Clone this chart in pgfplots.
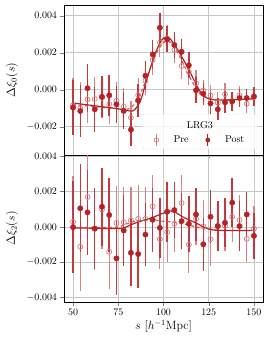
\documentclass[border=0pt]{standalone}
\usepackage{pgfplots}
\pgfplotsset{compat=1.18}
\usepackage{pgfplotstable}
\definecolor{post}{RGB}{184,32,36}
\colorlet{postbar}{post!88!white}
\colorlet{pre}{post!60!white}
\colorlet{prebar}{post!55!white}

\pgfplotstableread{
s post epost pre epre
50 -0.00097 0.0015 -0.00085 0.0015
54 -0.00115 0.0014 -0.00100 0.0014
58 0.00008 0.0013 -0.00052 0.0013
62 -0.00106 0.0012 -0.00050 0.0012
66 -0.00038 0.0011 -0.00045 0.0011
70 -0.00030 0.0011 -0.00078 0.0011
74 -0.00079 0.0010 -0.00060 0.0010
78 -0.00115 0.0010 -0.00092 0.0010
82 -0.00216 0.0009 -0.00151 0.0009
86 -0.00057 0.0009 -0.00029 0.0009
90 0.00076 0.0008 0.00049 0.0008
94 0.00191 0.0008 0.00160 0.0008
98 0.00335 0.0008 0.00256 0.0008
102 0.00272 0.0007 0.00278 0.0007
106 0.00242 0.0007 0.00215 0.0007
110 0.00205 0.0007 0.00128 0.0007
114 0.00132 0.0007 0.00097 0.0007
118 -0.00003 0.0007 0.00035 0.0007
122 -0.00022 0.0006 -0.00005 0.0006
126 -0.00074 0.0006 -0.00032 0.0006
130 -0.00106 0.0006 -0.00070 0.0006
134 -0.00068 0.0006 -0.00025 0.0006
138 -0.00063 0.0005 -0.00060 0.0005
142 -0.00045 0.0005 -0.00029 0.0005
146 -0.00045 0.0005 -0.00076 0.0005
150 -0.00036 0.0005 -0.00040 0.0005
}\topdata

\pgfplotstableread{
s post epost pre epre
50 -0.00002 0.0026 0.00028 0.0026
54 0.00105 0.0025 -0.00113 0.0025
58 0.00082 0.0024 0.00169 0.0024
62 -0.00010 0.0023 -0.00012 0.0023
66 0.00114 0.0022 0.00097 0.0022
70 0.00067 0.0021 -0.00141 0.0021
74 -0.00179 0.0021 0.00022 0.0021
78 -0.00021 0.0020 0.00026 0.0020
82 -0.00147 0.0019 0.00037 0.0019
86 -0.00154 0.0019 0.00045 0.0019
90 -0.00044 0.0018 0.00045 0.0018
94 0.00040 0.0018 0.00116 0.0018
98 -0.00006 0.0017 -0.00070 0.0017
102 0.00086 0.0017 -0.00030 0.0017
106 0.00095 0.0016 0.00017 0.0016
110 0.00032 0.0016 0.00135 0.0016
114 0.00017 0.0016 -0.00101 0.0016
118 0.00070 0.0015 0.00045 0.0015
122 -0.00099 0.0015 0.00003 0.0015
126 0.00057 0.0015 -0.00070 0.0015
130 0.00004 0.0014 0.00005 0.0014
134 0.00023 0.0014 0.00005 0.0014
138 0.00137 0.0014 0.00056 0.0014
142 0.00004 0.0014 0.00039 0.0014
146 0.00070 0.0013 -0.00068 0.0013
150 -0.00051 0.0013 -0.00010 0.0013
}\botdata

\pgfplotsset{
  panel/.style={
    scale only axis, width=199bp,
    xmin=45, xmax=155,
    xtick={50,75,100,125,150},
    grid=major,
    major grid style={gray!45, line width=0.5pt},
    axis line style={line width=0.6pt},
    tick align=outside,
    xtick pos=bottom, ytick pos=left,
    major tick length=3.5bp,
    tick label style={font=\fontsize{10}{12}\selectfont},
    label style={font=\fontsize{12}{14}\selectfont},
    scaled y ticks=false,
    yticklabel style={/pgf/number format/.cd, fixed, fixed zerofill, precision=3},
    ylabel style={at={(axis description cs:-0.262,0.5)}, anchor=center},
  },
  preplot/.style={only marks, color=pre, mark=o, mark size=2.5pt,
    mark options={line width=0.7pt, draw=pre, fill=none},
    error bars/.cd, y dir=both, y explicit, error mark=none,
    error bar style={line width=1.2pt, draw=prebar, color=prebar}},
  postplot/.style={only marks, color=post, mark=*, mark size=2.7pt,
    mark options={draw=post, fill=post},
    error bars/.cd, y dir=both, y explicit, error mark=none,
    error bar style={line width=1.5pt, draw=postbar, color=postbar}},
}

\begin{document}
\begin{tikzpicture}
\begin{axis}[panel, name=top, height=150bp,
  ymin=-0.00353, ymax=0.00458,
  ytick={-0.002,0,0.002,0.004},
  xticklabels={},
  ylabel={$\Delta\xi_0(s)$},
  legend columns=2,
  legend style={draw=none, fill=none, at={(rel axis cs:0.427,0.1)}, anchor=west,
    font=\fontsize{10}{12}\selectfont,
    /tikz/every even column/.append style={column sep=13bp}},
  legend image code/.code={
    \path (-4bp,0) (15bp,0);
    \draw[#1, mark=none, line width=1.2pt] (0bp,-6bp) -- (0bp,6bp);
    \draw[#1, only marks, mark size=2.2pt] plot coordinates {(0bp,0bp)};},
]
\draw[rounded corners=2bp, draw=gray!25, fill=white, fill opacity=0.8]
  (rel axis cs:0.392,0.04) rectangle (rel axis cs:0.97,0.273);
\node[font=\fontsize{10}{12}\selectfont] at (rel axis cs:0.683,0.2) {LRG3};
\addplot[preplot] table[x=s, y=pre, y error=epre] {\topdata};
\addlegendentry{Pre}
\addplot[postplot] table[x=s, y=post, y error=epost] {\topdata};
\addlegendentry{Post}
\addplot[pre!70!post, dashed, line width=1.2pt, smooth, forget plot] coordinates {
(50,-0.00080) (58,-0.00088) (66,-0.00095) (74,-0.00102) (79,-0.00105) (82,-0.00098)
(85,-0.00060) (88,-0.00005) (91,0.00070) (94,0.00150) (97,0.00215) (100,0.00255)
(102,0.00262) (104,0.00255) (107,0.00215) (110,0.00160) (113,0.00098) (116,0.00040)
(119,-0.00010) (122,-0.00035) (126,-0.00050) (132,-0.00055) (140,-0.00052) (150,-0.00048)};
\addplot[post, line width=1.2pt, smooth, forget plot] coordinates {
(50,-0.00072) (58,-0.00082) (66,-0.00092) (74,-0.00102) (80,-0.00112) (83,-0.00115)
(86,-0.00085) (88,-0.00040) (90,0.00030) (93,0.00125) (96,0.00210) (99,0.00268)
(101,0.00284) (103,0.00282) (106,0.00245) (110,0.00180) (114,0.00108) (118,0.00030)
(121,-0.00020) (124,-0.00045) (128,-0.00055) (135,-0.00056) (142,-0.00053) (150,-0.00050)};
\end{axis}

\begin{axis}[panel, name=bot, height=147bp,
  at={(top.south west)}, anchor=north west,
  ymin=-0.00426, ymax=0.00407,
  ytick={-0.004,-0.002,0,0.002,0.004},
  ylabel={$\Delta\xi_2(s)$},
  xlabel={$s$ [$h^{-1}$Mpc]},
  xlabel style={yshift=2bp},
]
\addplot[preplot] table[x=s, y=pre, y error=epre] {\botdata};
\addplot[postplot] table[x=s, y=post, y error=epost] {\botdata};
\addplot[pre!70!post, dashed, line width=1.2pt, smooth] coordinates {
(50,-0.00003) (62,-0.00003) (74,-0.00002) (78,0.00010) (82,0.00025) (86,0.00035)
(90,0.00040) (94,0.00040) (98,0.00033) (102,0.00030) (106,0.00026) (110,0.00020)
(114,0.00010) (118,0.00000) (122,-0.00010) (126,-0.00016) (132,-0.00020) (150,-0.00020)};
\addplot[post, line width=1.2pt, smooth] coordinates {
(50,-0.00006) (62,-0.00008) (74,-0.00010) (78,-0.00006) (82,0.00012) (86,0.00027)
(90,0.00040) (94,0.00053) (98,0.00070) (102,0.00085) (104,0.00090) (107,0.00080)
(110,0.00060) (114,0.00040) (118,0.00022) (122,0.00000) (126,-0.00015) (130,-0.00020)
(140,-0.00021) (150,-0.00020)};
\end{axis}
\path ([shift={(-64bp,5bp)}]top.north west) rectangle ([shift={(6bp,-41bp)}]bot.south east);
\end{tikzpicture}
\end{document}
